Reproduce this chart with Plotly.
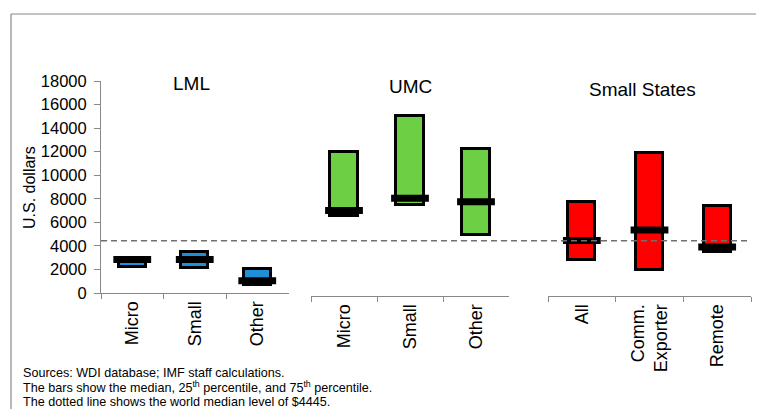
import plotly.graph_objects as go

# ---- data ----
lml_cats = ["Micro", "Small", "Other"]
lml_p25 = [2200, 2150, 650]
lml_median = [2850, 2850, 1050]
lml_p75 = [3000, 3500, 2050]

umc_cats = ["Micro", "Small", "Other"]
umc_p25 = [6500, 7500, 4900]
umc_median = [7000, 8050, 7750]
umc_p75 = [12000, 15000, 12200]

ss_cats = ["All", "Comm.<br>Exporter", "Remote"]
ss_p25 = [2800, 1950, 3450]
ss_median = [4450, 5350, 3900]
ss_p75 = [7750, 11900, 7400]

world_median = 4445

group_titles = ["LML", "UMC", "Small States"]
y_ticks = [0, 2000, 4000, 6000, 8000, 10000, 12000, 14000, 16000, 18000]

# ---- style ----
FONT = "Liberation Sans, Arial, sans-serif"
AX = "#888888"
colors = ["#1F8FDA", "#6CCF44", "#FF0000"]
groups = [
    (lml_cats, lml_p25, lml_median, lml_p75, "x", 0.43),
    (umc_cats, umc_p25, umc_median, umc_p75, "x2", 0.41),
    (ss_cats, ss_p25, ss_median, ss_p75, "x3", 0.40),
]

fig = go.Figure()
for (cats, p25, med, p75, xa, w), col in zip(groups, colors):
    fig.add_trace(go.Bar(
        x=cats, y=[b - a for a, b in zip(p25, p75)], base=p25,
        xaxis=xa, yaxis="y", width=w,
        marker=dict(color=col, line=dict(color="black", width=3)),
        showlegend=False, hoverinfo="skip",
    ))
    fig.add_trace(go.Scatter(
        x=cats, y=med, xaxis=xa, yaxis="y", mode="markers",
        marker=dict(symbol="line-ew", size=27, color="black",
                    line=dict(color="black", width=7)),
        showlegend=False, hoverinfo="skip",
    ))

# page has an 8px body margin: work in window pixels and shift
OFF = 8
W, H = 764 - OFF, 409 - OFF
L, T = 101 - OFF, 81 - OFF
R = 13
B = 409 - 296
pw = W - L - R
ph = H - T - B


def px(x):
    return (x - OFF - L) / pw


def py(y):
    return (H - B - (y - OFF)) / ph


xcommon = dict(
    type="category", range=[-0.5, 2.5], showline=True, linecolor=AX, linewidth=1,
    ticks="outside", ticklen=5, tickcolor=AX, tickson="boundaries",
    tickangle=-90, showgrid=False, zeroline=False,
    tickfont=dict(family=FONT, size=18, color="black"),
)

fig.update_layout(
    width=W, height=H,
    margin=dict(l=L, r=R, t=T, b=B, pad=0),
    paper_bgcolor="white", plot_bgcolor="white",
    font=dict(family=FONT, color="black"),
    bargap=0,
    xaxis=dict(domain=[0, px(288.5)], anchor="y", **xcommon),
    xaxis2=dict(domain=[px(311), px(509)], anchor="free", position=0, **xcommon),
    xaxis3=dict(domain=[px(548), px(751)], anchor="free", position=0, **xcommon),
    yaxis=dict(
        domain=[3 / ph, 1], anchor="x", range=[0, 18000],
        tickvals=y_ticks, tickformat="d",
        showline=True, linecolor=AX, linewidth=1,
        ticks="outside", ticklen=6, tickcolor=AX, ticklabelstandoff=4,
        showgrid=False, zeroline=False,
        tickfont=dict(family=FONT, size=16.5, color="black"),
    ),
    shapes=[
        dict(type="line", xref="paper", yref="y", x0=0, x1=1,
             y0=world_median, y1=world_median,
             line=dict(color="#707070", width=1.5, dash="6px,4px"), layer="above"),
        dict(type="line", xref="paper", yref="paper", x0=px(11), x1=px(764),
             y0=py(14), y1=py(14), line=dict(color=AX, width=1.2)),
        dict(type="line", xref="paper", yref="paper", x0=px(11), x1=px(11),
             y0=py(14), y1=py(409), line=dict(color=AX, width=1.2)),
    ],
)

ann = []
for xa, xpos, ypix, t in zip(["x", "x2", "x3"], [0.94, 1.0, 0.9], [84, 86, 89], group_titles):
    ann.append(dict(xref=xa, yref="paper", x=xpos, y=py(ypix), text=t,
                    showarrow=False, xanchor="center", yanchor="middle",
                    font=dict(family=FONT, size=19, color="black")))
ann.append(dict(xref="paper", yref="paper", x=px(29), y=py(188), text="U.S. dollars",
                textangle=-90, showarrow=False, xanchor="center", yanchor="middle",
                font=dict(family=FONT, size=16, color="black")))
notes = [
    "Sources: WDI database; IMF staff calculations.",
    "The bars show the median, 25<sup>th</sup> percentile, and 75<sup>th</sup> percentile.",
    "The dotted line shows the world median level of $4445.",
]
for ypix, t in zip([373, 387, 401.5], notes):
    ann.append(dict(xref="paper", yref="paper", x=px(21), y=py(ypix), text=t,
                    showarrow=False, xanchor="left", yanchor="middle",
                    font=dict(family=FONT, size=12.6, color="black")))
fig.update_layout(annotations=ann)

fig.write_html("out.html")
